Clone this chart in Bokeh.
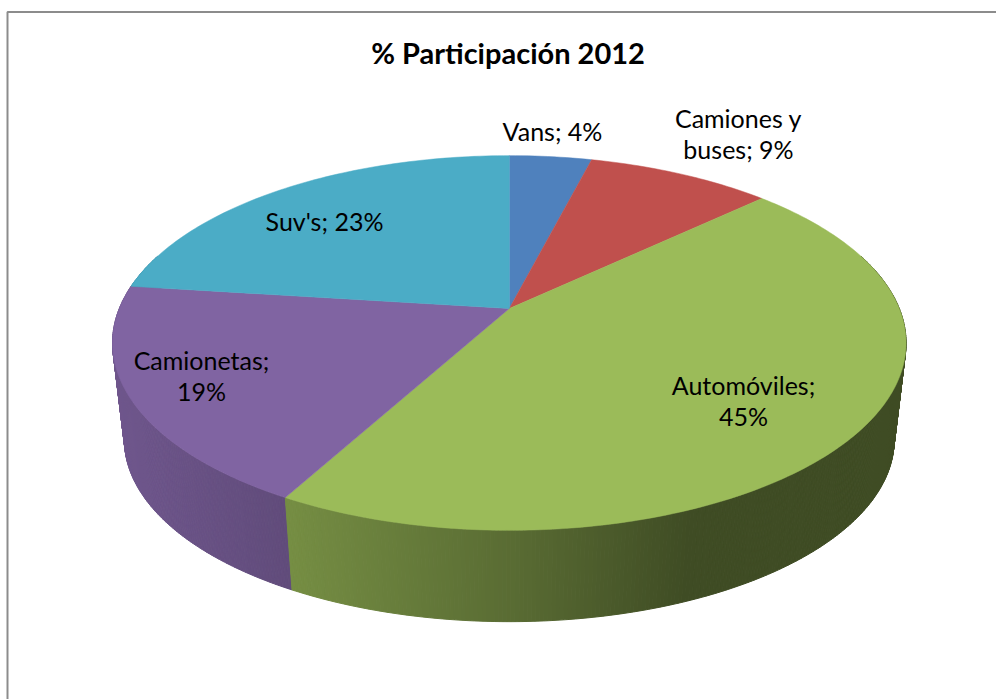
import numpy as np
from bokeh.core.properties import value
from bokeh.embed import file_html
from bokeh.models import ColumnDataSource, Range1d
from bokeh.plotting import figure
from bokeh.resources import INLINE

# Market share by vehicle class
categories = ["Vans", "Camiones y buses", "Automóviles", "Camionetas", "Suv's"]
shares = [4, 9, 45, 19, 23]
colors = ["#4F81BD", "#C0504D", "#9BBB59", "#8064A2", "#4BACC6"]
title_text = "% Participación 2012"

# Where each data label goes, and where its text wraps
label_anchor_x = [552, 738, 324, 743, 201]
label_anchor_y = [130, 117, 220, 384, 359]
label_order = [0, 1, 4, 2, 3]
label_wraps = {"Camiones y buses": ("Camiones y", "buses"), "Automóviles": None, "Camionetas": None}
LINE_STEP = 31

# Perspective disc: the top face and the smaller, lower bottom face
CX = 508.8
TOP_Y, BOTTOM_Y = 308, 406
TILT = 0.184
TOP_A, TOP_B = 390, 181
BOTTOM_SCALE = 0.97

# Side wall darkening as a function of screen x
SHADE_X = [113, 287, 510, 690, 906]
SHADE_F = [0.87, 0.76, 0.58, 0.41, 0.41]


def project(theta, apex_y, scale):
    u, v = np.sin(theta), np.cos(theta)
    d = 1 + TILT * v
    return CX + TOP_A * scale * u / d, apex_y - TOP_B * scale * v / d


def shaded(color, x):
    f = np.interp(x, SHADE_X, SHADE_F)
    r, g, b = (int(color[i:i + 2], 16) for i in (1, 3, 5))
    return "#%02x%02x%02x" % (int(r * f), int(g * f), int(b * f))


p = figure(width=996, height=699, output_backend="svg", toolbar_location=None,
           x_range=Range1d(0, 996), y_range=Range1d(699, 0),
           min_border=0, outline_line_color=None, background_fill_color="white",
           border_fill_color="white")
p.axis.visible = False
p.grid.visible = False

# Chart frame: only the top and left edges fall inside the page
p.line([7, 7, 996], [699, 11.6, 11.6], line_color="#8c8c8c", line_width=2)

edges = np.cumsum([0] + shares) / sum(shares) * 2 * np.pi

# Side wall, one thin quad per step, from back to front
wall = {"xs": [], "ys": [], "c": [], "depth": []}
for start, stop, color in zip(edges[:-1], edges[1:], colors):
    n = max(2, int((stop - start) * 180 / np.pi * 2))
    t = np.linspace(start, stop, n + 1)
    x0, y0 = project(t, TOP_Y, 1)
    x1, y1 = project(t, BOTTOM_Y, BOTTOM_SCALE)
    for i in range(n):
        if np.cos(t[i]) > 0.3 and np.cos(t[i + 1]) > 0.3:
            continue
        wall["xs"].append([x0[i], x0[i + 1], x1[i + 1], x1[i]])
        wall["ys"].append([y0[i], y0[i + 1], y1[i + 1], y1[i]])
        wall["c"].append(shaded(color, (x0[i] + x0[i + 1]) / 2))
        wall["depth"].append(-np.cos((t[i] + t[i + 1]) / 2))
order = np.argsort(wall["depth"])
wall_src = ColumnDataSource({k: [wall[k][i] for i in order] for k in ("xs", "ys", "c")})
p.patches("xs", "ys", source=wall_src, fill_color="c", line_color="c", line_width=1)

# Top face wedges
top = {"xs": [], "ys": [], "c": []}
for start, stop, color in zip(edges[:-1], edges[1:], colors):
    t = np.linspace(start, stop, max(8, int((stop - start) * 180 / np.pi)))
    x, y = project(t, TOP_Y, 1)
    top["xs"].append([CX, *x])
    top["ys"].append([TOP_Y, *y])
    top["c"].append(color)
p.patches("xs", "ys", source=ColumnDataSource(top), fill_color="c", line_color="c", line_width=0.5)

# Data labels, one text per line
lab_x, lab_y, lab_t = [], [], []
for idx, ax, ay in zip(label_order, label_anchor_x, label_anchor_y):
    name, share = categories[idx], shares[idx]
    wrap = label_wraps.get(name, "single")
    if wrap == "single":
        lines = [f"{name}; {share}%"]
    elif wrap is None:
        lines = [f"{name};", f"{share}%"]
    else:
        lines = [wrap[0], f"{wrap[1]}; {share}%"]
    for j, line in enumerate(lines):
        lab_x.append(ax)
        lab_y.append(ay + j * LINE_STEP)
        lab_t.append(line)
p.text(lab_x, lab_y, text=lab_t, text_font=value("Lato"), text_font_size="25px",
       text_color="#000000", text_align="center", text_baseline="middle")

p.text([507.5], [52], text=[title_text], text_font=value("Lato"), text_font_size="29px",
       text_font_style="bold", text_color="#000000", text_align="center", text_baseline="middle")

open("out.html", "w").write(file_html(p, INLINE))
